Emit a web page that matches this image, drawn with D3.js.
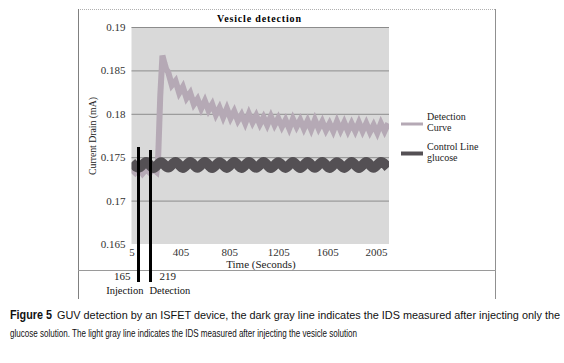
<!DOCTYPE html>
<html>
<head>
<meta charset="utf-8">
<script src="https://cdn.jsdelivr.net/npm/d3@7"></script>
<style>
  body { margin: 0; background: #fff; }
  svg { display: block; }
</style>
</head>
<body>
<div id="chart"></div>
<script>
// y ticks and x tick labels as printed on the figure
const yTicks = [0.165, 0.17, 0.175, 0.18, 0.185, 0.19];
const xTicks = [5, 405, 805, 1205, 1605, 2005];

// light gray series: vesicle solution (time s, current mA)
const detectionTime = [5, 35, 65, 95, 125, 155, 185, 210, 222, 240, 258, 275, 290,
  305, 335, 365, 395, 425, 455, 485, 515, 545, 575, 605, 635, 665, 695, 725, 755,
  785, 815, 845, 875, 905, 935, 965, 995, 1025, 1055, 1085, 1115, 1145, 1175, 1205,
  1235, 1265, 1295, 1325, 1355, 1385, 1415, 1445, 1475, 1505, 1535, 1565, 1595, 1625,
  1655, 1685, 1715, 1745, 1775, 1805, 1835, 1865, 1895, 1925, 1955, 1985, 2015, 2045,
  2075, 2105];
const detectionValue = [0.1736, 0.1732, 0.1737, 0.1731, 0.1736, 0.1732, 0.1736, 0.1733,
  0.1745, 0.1820, 0.1867, 0.1858, 0.1851,
  0.1848, 0.1833, 0.1838, 0.1824, 0.1831, 0.1818, 0.1824, 0.1811, 0.1817, 0.1806,
  0.1815, 0.1804, 0.1811, 0.1799, 0.1807, 0.1796, 0.1806, 0.1795, 0.1803, 0.1792,
  0.1799, 0.1789, 0.1800, 0.1790, 0.1798, 0.1788, 0.1796, 0.1787, 0.1797, 0.1787,
  0.1795, 0.1785, 0.1793, 0.1783, 0.1794, 0.1785, 0.1793, 0.1783, 0.1792, 0.1782,
  0.1793, 0.1783, 0.1791, 0.1781, 0.1789, 0.1780, 0.1791, 0.1781, 0.1790, 0.1780,
  0.1789, 0.1780, 0.1790, 0.1780, 0.1789, 0.1779, 0.1787, 0.1778, 0.1789, 0.1780,
  0.1789];

// dark gray series: glucose only control
const controlTime = [5, 65, 125, 185, 245, 305, 365, 425, 485, 545, 605, 665, 725, 785,
  845, 905, 965, 1025, 1085, 1145, 1205, 1265, 1325, 1385, 1445, 1505, 1565, 1625,
  1685, 1745, 1805, 1865, 1925, 1985, 2045, 2105];
const controlValue = [0.17440, 0.17378, 0.17445, 0.17375, 0.17442, 0.17380, 0.17446,
  0.17376, 0.17444, 0.17378, 0.17445, 0.17375, 0.17443, 0.17377, 0.17446, 0.17376,
  0.17444, 0.17378, 0.17445, 0.17375, 0.17443, 0.17377, 0.17445, 0.17376, 0.17444,
  0.17378, 0.17446, 0.17375, 0.17443, 0.17377, 0.17445, 0.17376, 0.17444, 0.17378,
  0.17445, 0.17380];

const seriesNames = [["Detection", "Curve"], ["Control Line", "glucose"]];
const seriesColors = ["#b5a9b5", "#545054"];

// hand drawn markers under the chart
const markerAt = [62, 160];
const markerValue = ["165", "219"];
const markerName = ["Injection", "Detection"];

const captionLines = [
  "GUV detection by an ISFET device, the dark gray line indicates the IDS measured after injecting only the",
  "glucose solution. The light gray line indicates the IDS measured after injecting the vesicle solution"
];

const W = 564, H = 363;
const plot = {left: 131.5, top: 27, right: 389, bottom: 244};

const svg = d3.select("#chart").append("svg")
  .attr("width", W).attr("height", H);

const serif = "Liberation Serif, Times New Roman, serif";
const sans = "Liberation Sans, Arial, sans-serif";

// outer frame
const frame = svg.append("g").attr("stroke-width", 1).attr("fill", "none");
frame.append("line").attr("x1", 78).attr("x2", 496).attr("y1", 9.5).attr("y2", 9.5)
  .attr("stroke", "#b0b0b0").attr("stroke-dasharray", "1,1");
frame.append("line").attr("x1", 78.5).attr("x2", 78.5).attr("y1", 9).attr("y2", 299)
  .attr("stroke", "#808080");
frame.append("line").attr("x1", 495.5).attr("x2", 495.5).attr("y1", 9).attr("y2", 299)
  .attr("stroke", "#909090");
frame.append("line").attr("x1", 78).attr("x2", 496).attr("y1", 270.5).attr("y2", 270.5)
  .attr("stroke", "#9a9a9a");

var x = d3.scaleLinear().domain([5, 2111]).range([plot.left, plot.right]);
var y = d3.scaleLinear().domain([0.165, 0.19]).range([plot.bottom, plot.top]);

// plot background
svg.append("rect")
  .attr("x", plot.left).attr("y", plot.top)
  .attr("width", plot.right - plot.left).attr("height", plot.bottom - plot.top)
  .attr("fill", "#d9d9d9");

// grid lines
svg.append("g")
  .attr("transform", "translate(" + plot.left + ",0)")
  .call(d3.axisLeft(y).tickValues(yTicks.slice(1)).tickSize(-(plot.right - plot.left)).tickFormat(""))
  .call(g => g.select(".domain").remove())
  .call(g => g.selectAll("line").attr("stroke", "#8c8c8c"));

// y axis labels
svg.append("g")
  .attr("transform", "translate(" + plot.left + ",0)")
  .call(d3.axisLeft(y).tickValues(yTicks).tickSize(0).tickPadding(6)
    .tickFormat(d => String(+d.toFixed(3))))
  .call(g => g.select(".domain").remove())
  .call(g => g.selectAll("text").attr("font-family", serif).attr("font-size", 11).attr("fill", "#333"));

// x axis labels
svg.append("g")
  .attr("transform", "translate(0," + plot.bottom + ")")
  .call(d3.axisBottom(x).tickValues(xTicks).tickSize(0).tickPadding(4).tickFormat(d3.format("d")))
  .call(g => g.select(".domain").remove())
  .call(g => g.selectAll("text").attr("font-family", serif).attr("font-size", 11).attr("fill", "#333"));

// titles
svg.append("text")
  .attr("x", 259).attr("y", 22)
  .attr("text-anchor", "middle")
  .attr("font-family", serif).attr("font-weight", "bold").attr("font-size", 10)
  .attr("textLength", 84).attr("lengthAdjust", "spacing")
  .text("Vesicle  detection");

svg.append("text")
  .attr("x", 261).attr("y", 268)
  .attr("text-anchor", "middle")
  .attr("font-family", serif).attr("font-size", 11).attr("fill", "#222")
  .text("Time (Seconds)");

svg.append("text")
  .attr("transform", "translate(96,136) rotate(-90)")
  .attr("text-anchor", "middle")
  .attr("font-family", serif).attr("font-size", 10.5).attr("fill", "#222")
  .attr("textLength", 78).attr("lengthAdjust", "spacingAndGlyphs")
  .text("Current Drain (mA)");

// series
svg.append("clipPath").attr("id", "plotClip")
  .append("rect")
  .attr("x", plot.left).attr("y", plot.top)
  .attr("width", plot.right - plot.left).attr("height", plot.bottom - plot.top);

const detection = detectionTime.map((t, i) => [t, detectionValue[i]]);
const control = controlTime.map((t, i) => [t, controlValue[i]]);

const jag = d3.line().x(d => x(d[0])).y(d => y(d[1]));
const smooth = d3.line().curve(d3.curveCardinal).x(d => x(d[0])).y(d => y(d[1]));

const lines = svg.append("g").attr("clip-path", "url(#plotClip)");
lines.append("path")
  .attr("d", jag(detection))
  .attr("fill", "none").attr("stroke", seriesColors[0])
  .attr("stroke-width", 6).attr("stroke-linejoin", "miter").attr("stroke-miterlimit", 3);
lines.append("path")
  .attr("d", smooth(control))
  .attr("fill", "none").attr("stroke", seriesColors[1])
  .attr("stroke-width", 10);

// legend
const legend = svg.append("g");
seriesNames.forEach((names, i) => {
  const cy = 124 + i * 29.5;
  legend.append("line")
    .attr("x1", 401).attr("x2", 423).attr("y1", cy).attr("y2", cy)
    .attr("stroke", seriesColors[i]).attr("stroke-width", i === 0 ? 3 : 4);
  names.forEach((n, j) => {
    legend.append("text")
      .attr("x", 427).attr("y", cy - 4 + j * 11)
      .attr("font-family", serif).attr("font-size", 10).attr("fill", "#222")
      .text(n);
  });
});

// injection / detection markers
markerAt.forEach((t, i) => {
  const mx = Math.round(x(t)) + 0.5;
  svg.append("line")
    .attr("x1", mx).attr("x2", mx)
    .attr("y1", i === 0 ? 147 : 150).attr("y2", 282)
    .attr("stroke", "#000").attr("stroke-width", 3);
  svg.append("text")
    .attr("x", i === 0 ? mx - 8 : mx + 9).attr("y", 280)
    .attr("text-anchor", i === 0 ? "end" : "start")
    .attr("font-family", serif).attr("font-size", 11).attr("fill", "#222")
    .text(markerValue[i]);
  svg.append("text")
    .attr("x", i === 0 ? mx + 5 : mx - 1).attr("y", 294)
    .attr("text-anchor", i === 0 ? "end" : "start")
    .attr("font-family", serif).attr("font-size", 10.5).attr("fill", "#111")
    .text(markerName[i]);
});

// caption
const cap = svg.append("g").attr("font-family", sans).attr("fill", "#111");
cap.append("text").attr("x", 10).attr("y", 319)
  .attr("font-weight", "bold").attr("font-size", 12.5)
  .attr("textLength", 42).attr("lengthAdjust", "spacingAndGlyphs")
  .text("Figure 5");
cap.append("text").attr("x", 57).attr("y", 319)
  .attr("font-size", 10.5)
  .attr("textLength", 503).attr("lengthAdjust", "spacingAndGlyphs")
  .text(captionLines[0]);
cap.append("text").attr("x", 10).attr("y", 337)
  .attr("font-size", 11)
  .attr("textLength", 347).attr("lengthAdjust", "spacingAndGlyphs")
  .text(captionLines[1]);
</script>
</body>
</html>
